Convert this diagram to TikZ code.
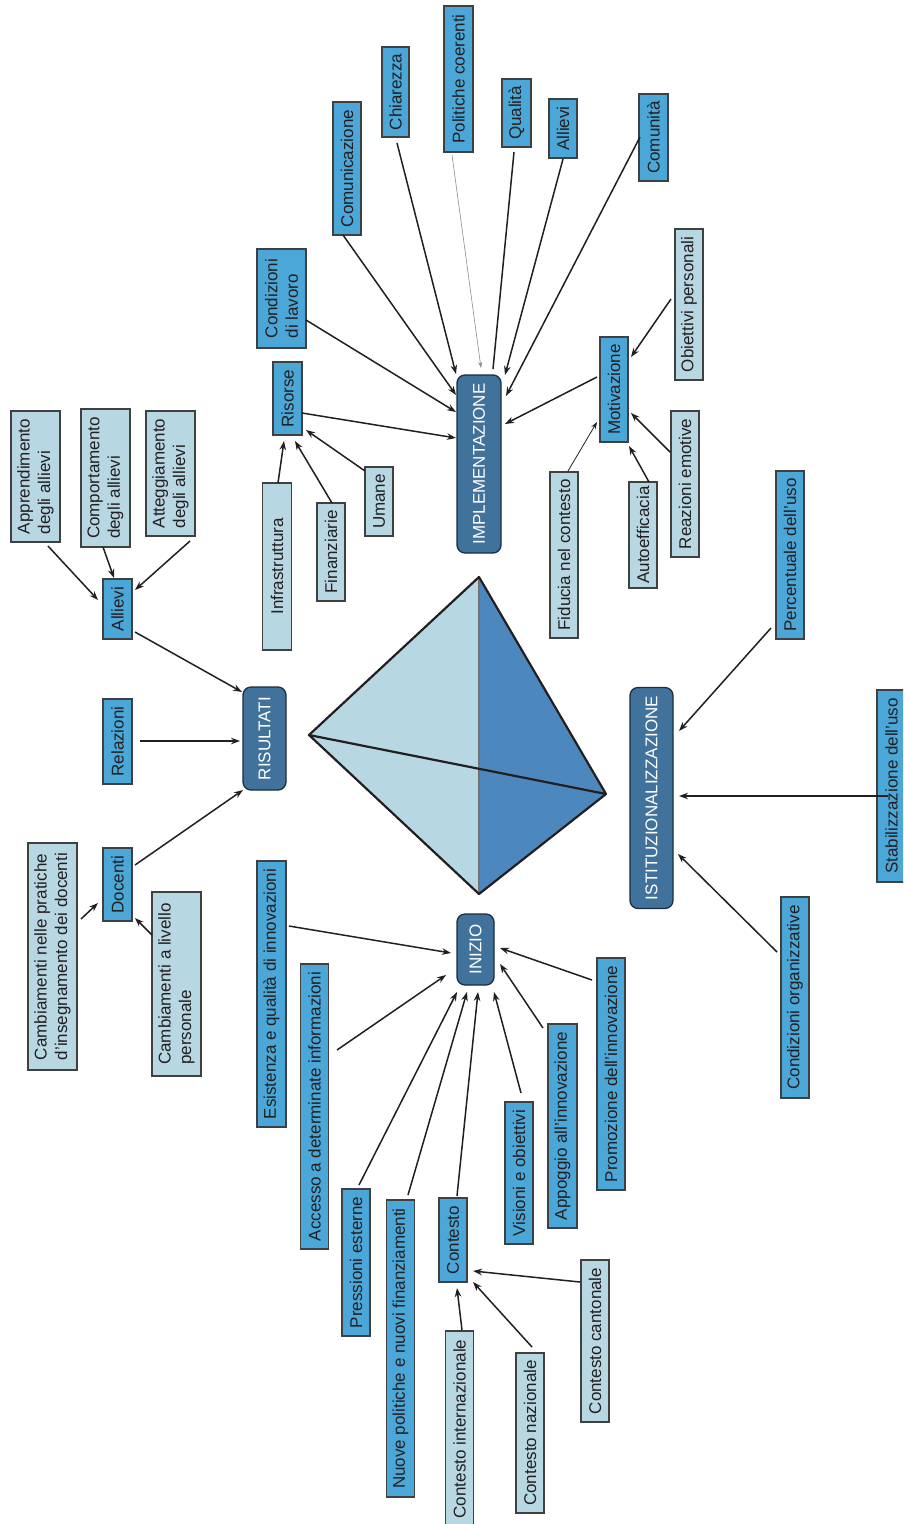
\documentclass[tikz,border=0pt]{standalone}
\usepackage{fontspec}
\setmainfont{Liberation Sans}
\usetikzlibrary{arrows.meta}

\definecolor{lightbox}{HTML}{B7D7E2}
\definecolor{midbox}{HTML}{4BA7D7}
\definecolor{darkbox}{HTML}{41729B}
\definecolor{tetraR}{HTML}{4C88BD}
\definecolor{ink}{HTML}{231F20}

\tikzset{
  box/.style={rotate=90, draw=black!75, line width=1.1pt, inner sep=0pt,
              align=left, font=\fontsize{17}{20.5}\selectfont, text=ink},
  lbox/.style={box, fill=lightbox},
  mbox/.style={box, fill=midbox},
  phase/.style={box, fill=darkbox, draw=black!60!darkbox, line width=1.3pt,
                rounded corners=8pt, text=white},
  sz/.style 2 args={minimum height=#1pt, minimum width=#2pt},
  arr/.style={draw=ink, line width=1.5pt, -{Stealth[length=9pt,width=6.5pt]}},
  plainlink/.style={draw=ink, line width=1.5pt},
  faintarr/.style={draw=black!45, line width=0.6pt, -{Stealth[length=6pt,width=4pt]}},
  thinarr/.style={draw=ink, line width=0.8pt, -{Stealth[length=7pt,width=5pt]}},
}

\begin{document}
\begin{tikzpicture}[x=1pt, y=-1pt]
\useasboundingbox (0,0) rectangle (903,1524);
\clip (0,0) rectangle (903,1524);
\fill[white] (0,0) rectangle (903,1524);

% central tetrahedron
\coordinate (tT) at (479,577);
\coordinate (tL) at (309,735);
\coordinate (tR) at (606,794);
\coordinate (tB) at (479,894);
\fill[lightbox] (tT) -- (tL) -- (tB) -- cycle;
\fill[tetraR] (tT) -- (tR) -- (tB) -- cycle;
\draw[black!55, line width=1.2pt] (tT) -- (tB);
\draw[ink, line width=2.2pt, line join=round] (tT) -- (tL) -- (tB) -- (tR) -- cycle;
\draw[ink, line width=2.2pt] (tL) -- (tR);

% implementation branch
\node[mbox, sz={29}{146}] (polit) at (458.5,79) {Politiche coerenti};
\node[mbox, sz={27}{90}] (chiar) at (395.5,92) {Chiarezza};
\node[mbox, sz={28}{133}] (comun) at (347,168.5) {Comunicazione};
\node[mbox, sz={29}{68}] (qual) at (516.5,113) {Qualità};
\node[mbox, sz={28}{59}] (allT) at (563,128.5) {Allievi};
\node[mbox, sz={29}{87}] (comt) at (653.5,137.5) {Comunità};
\node[mbox, sz={49}{99}] (cond) at (281.5,298.5) {Condizioni\\di lavoro};
\node[mbox, sz={29}{73}] (ris) at (287.5,398.5) {Risorse};
\node[phase, sz={44}{178}] (impl) at (479,464) {IMPLEMENTAZIONE};
\node[mbox, sz={28}{105}] (motiv) at (614,389.5) {Motivazione};
\node[lbox, sz={28}{151}] (obiet) at (689,304.5) {Obiettivi personali};
\node[lbox, sz={28}{146}] (reaz) at (685,484) {Reazioni emotive};
\node[lbox, sz={28}{106}] (autoe) at (643,535) {Autoefficacia};
\node[lbox, sz={28}{166}] (fidu) at (564,555) {Fiducia nel contesto};
\node[lbox, sz={28}{69}] (umane) at (379,501.5) {Umane};
\node[lbox, sz={28}{98}] (finanz) at (331,552) {Finanziarie};
\node[lbox, sz={29}{167}] (infra) at (277,566.5) {Infrastruttura};

% results branch
\node[lbox, sz={49}{131}] (appr) at (35.5,476.5) {Apprendimento\\degli allievi};
\node[lbox, sz={49}{138}] (comp) at (105.5,478) {Comportamento\\degli allievi};
\node[lbox, sz={49}{125}] (atteg) at (170.5,473.5) {Atteggiamento\\degli allievi};
\node[mbox, sz={29}{60}] (allL) at (117.5,609) {Allievi};
\node[phase, sz={43}{103}] (risu) at (264.5,738.5) {RISULTATI};
\node[mbox, sz={29}{85}] (rel) at (117.5,741.5) {Relazioni};
\node[mbox, sz={29}{73}] (doc) at (117.5,884.5) {Docenti};
\node[lbox, sz={49}{227}] (camb1) at (52.5,956.5) {Cambiamenti nelle pratiche\\d’insegnamento dei docenti};
\node[lbox, sz={49}{184}] (camb2) at (176.5,984) {Cambiamenti a livello\\personale};

% institutionalisation branch
\node[mbox, sz={28}{168}] (perc) at (790,555) {Percentuale dell’uso};
\node[phase, sz={43}{221}] (istit) at (651.5,798) {ISTITUZIONALIZZAZIONE};
\node[mbox, sz={29}{192}] (stab) at (891.5,786) {Stabilizzazione dell’uso};
\node[mbox, sz={28}{201}] (corg) at (795,997.5) {Condizioni organizzative};

% initiation branch
\node[phase, sz={37}{71}] (inizio) at (475.5,949.5) {INIZIO};
\node[mbox, sz={29}{266}] (esist) at (271.5,994) {Esistenza e qualità di innovazioni};
\node[mbox, sz={28}{285}] (acc) at (314.5,1106.5) {Accesso a determinate informazioni};
\node[mbox, sz={28}{147}] (press) at (356,1262.5) {Pressioni esterne};
\node[mbox, sz={28}{297}] (nuove) at (400.5,1348.5) {Nuove politiche e nuovi finanziamenti};
\node[mbox, sz={28}{84}] (cont) at (453,1240) {Contesto};
\node[mbox, sz={28}{142}] (vis) at (519,1173) {Visioni e obiettivi};
\node[mbox, sz={29}{204}] (appo) at (562.5,1126) {Appoggio all’innovazione};
\node[mbox, sz={28}{232}] (promo) at (611,1074) {Promozione dell’innovazione};
\node[lbox, sz={28}{196}] (cint) at (459.5,1429) {Contesto internazionale};
\node[lbox, sz={28}{160}] (cnaz) at (530,1433) {Contesto nazionale};
\node[lbox, sz={28}{162}] (ccant) at (595,1341) {Contesto cantonale};

% connectors into IMPLEMENTAZIONE
\draw[arr] ([shift={(-4,66.5)}]comun.center) -- ([shift={(-23,-69)}]impl.center);
\draw[arr] ([shift={(1.5,51)}]chiar.center) -- ([shift={(-23,-90)}]impl.center);
\draw[faintarr] ([shift={(-6.5,76)}]polit.center) -- ([shift={(2,-96)}]impl.center);
\draw[plainlink] ([shift={(-2.5,39)}]qual.center) -- ([shift={(14,-95)}]impl.center);
\draw[arr] ([shift={(0,30.5)}]allT.center) -- ([shift={(26,-89)}]impl.center);
\draw[arr] ([shift={(-13.5,-0.5)}]comt.center) -- ([shift={(27,-68)}]impl.center);
\draw[arr] ([shift={(24.5,21.5)}]cond.center) -- ([shift={(-23,-52)}]impl.center);
\draw[arr] ([shift={(14.5,14.5)}]ris.center) -- ([shift={(-23,-26)}]impl.center);
\draw[arr] ([shift={(-17,-12.5)}]motiv.center) -- ([shift={(26,-40)}]impl.center);

% resources and motivation
\draw[arr] ([shift={(1,-83.5)}]infra.center) -- ([shift={(-3.5,42.5)}]ris.center);
\draw[arr] ([shift={(1,-49)}]finanz.center) -- ([shift={(7.5,42.5)}]ris.center);
\draw[arr] ([shift={(-14,-30.5)}]umane.center) -- ([shift={(18.5,31.5)}]ris.center);
\draw[arr] ([shift={(-18,-5.5)}]obiet.center) -- ([shift={(17,-32.5)}]motiv.center);
\draw[arr] ([shift={(-15,-32)}]reaz.center) -- ([shift={(17,23.5)}]motiv.center);
\draw[arr] ([shift={(6,-53)}]autoe.center) -- ([shift={(15,56.5)}]motiv.center);
\draw[thinarr] ([shift={(4,-84)}]fidu.center) -- ([shift={(-17,32.5)}]motiv.center);

% connectors into RISULTATI
\draw[arr] ([shift={(12.5,69.5)}]appr.center) -- ([shift={(-19.5,-9)}]allL.center);
\draw[arr] ([shift={(-2.5,69)}]comp.center) -- ([shift={(-3.5,-31)}]allL.center);
\draw[arr] ([shift={(19.5,67.5)}]atteg.center) -- ([shift={(17.5,-19)}]allL.center);
\draw[arr] ([shift={(17.5,23)}]allL.center) -- ([shift={(-22.5,-46.5)}]risu.center);
\draw[arr] ([shift={(22.5,-0.5)}]rel.center) -- ([shift={(-24.5,2.5)}]risu.center);
\draw[arr] ([shift={(17.5,-19.5)}]doc.center) -- ([shift={(-21.5,51.5)}]risu.center);
\draw[arr] ([shift={(28.5,-37.5)}]camb1.center) -- ([shift={(-19.5,18.5)}]doc.center);
\draw[arr] ([shift={(-24.5,-49)}]camb2.center) -- ([shift={(17.5,33.5)}]doc.center);

% connectors into ISTITUZIONALIZZAZIONE
\draw[arr] ([shift={(-19,73)}]perc.center) -- ([shift={(27.5,-67)}]istit.center);
\draw[arr] ([shift={(-3.5,10)}]stab.center) -- ([shift={(27.5,-2)}]istit.center);
\draw[arr] ([shift={(-18,-45.5)}]corg.center) -- ([shift={(26.5,56)}]istit.center);

% connectors into INIZIO
\draw[arr] ([shift={(17.5,-68)}]esist.center) -- ([shift={(-24.5,3.5)}]inizio.center);
\draw[arr] ([shift={(22.5,-56.5)}]acc.center) -- ([shift={(-29.5,25.5)}]inizio.center);
\draw[arr] ([shift={(3,-77.5)}]press.center) -- ([shift={(-18.5,42.5)}]inizio.center);
\draw[arr] ([shift={(7.5,-153.5)}]nuove.center) -- ([shift={(-8.5,42.5)}]inizio.center);
\draw[arr] ([shift={(4,-44)}]cont.center) -- ([shift={(2.5,42.5)}]inizio.center);
\draw[arr] ([shift={(2,-80)}]vis.center) -- ([shift={(18.5,42.5)}]inizio.center);
\draw[arr] ([shift={(-19.5,-98)}]appo.center) -- ([shift={(24.5,14.5)}]inizio.center);
\draw[arr] ([shift={(-19,-94)}]promo.center) -- ([shift={(24.5,-1.5)}]inizio.center);

% context levels
\draw[arr] ([shift={(2.5,-99)}]cint.center) -- ([shift={(4,48)}]cont.center);
\draw[arr] ([shift={(2,-86)}]cnaz.center) -- ([shift={(20,42)}]cont.center);
\draw[arr] ([shift={(-15,-59)}]ccant.center) -- ([shift={(20,31)}]cont.center);
\end{tikzpicture}
\end{document}
